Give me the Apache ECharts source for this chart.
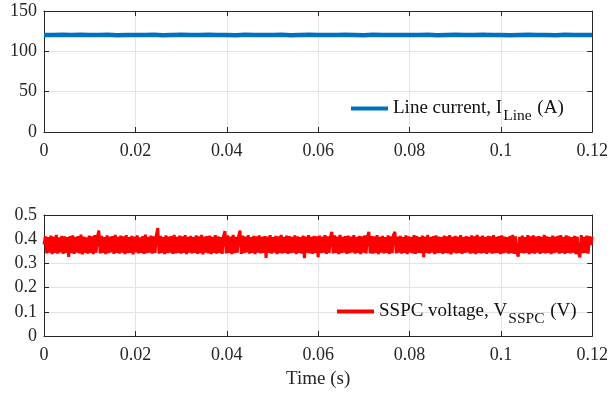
<!DOCTYPE html>
<html>
<head>
<meta charset="utf-8">
<script src="https://cdn.jsdelivr.net/npm/echarts@6/dist/echarts.min.js"></script>
<style>
html,body{margin:0;padding:0;background:#fff;}
#chart{width:611px;height:395px;}
</style>
</head>
<body>
<div id="chart"></div>
<script>
// Sample spacing of the recorded traces (s)
const currentStep = 0.002;
const voltageStep = 0.0003;

// Line current I_Line (A)
const lineCurrent = [
  120.3,120.1,120.5,120.2,120.6,120.1,120.4,120.6,120.0,120.4,
  120.2,120.1,120.5,120.0,120.4,120.6,120.1,120.3,120.5,120.2,
  120.4,120.0,120.6,120.2,120.1,120.4,120.6,120.0,120.3,120.5,
  120.2,120.4,120.1,120.5,120.3,120.0,120.6,120.3,120.1,120.4,
  120.2,120.1,120.5,120.0,120.4,120.6,120.1,120.3,120.5,120.2,
  120.4,120.0,120.3,120.5,120.2,120.4,120.0,120.5,120.3,120.1,
  120.3
];

// SSPC voltage V_SSPC (mV)
const sspcVoltage_mV = [
  378,412,341,409,345,415,338,411,343,418,340,408,346,414,339,412,344,409,327,413,
  342,416,339,410,345,413,341,419,337,411,344,408,340,415,343,412,338,417,345,410,
  436,341,414,344,409,338,416,342,411,346,413,339,418,343,410,340,415,345,412,338,
  417,342,409,344,414,337,411,346,416,341,408,343,413,339,419,342,410,345,415,340,
  412,343,417,446,340,414,344,409,338,416,342,411,345,413,339,418,341,410,344,415,
  340,412,343,417,338,410,345,414,341,409,344,416,339,412,342,418,337,411,345,413,
  341,415,338,410,344,417,340,412,343,409,339,414,433,341,416,344,411,338,418,342,
  410,345,413,436,339,415,342,411,346,417,340,409,343,414,338,412,345,416,341,410,
  344,413,323,411,343,417,340,409,345,414,338,412,342,418,341,410,344,415,339,413,
  342,410,345,416,338,412,343,409,340,415,322,411,344,417,341,410,339,414,343,412,
  326,415,342,411,345,417,339,412,343,409,430,341,416,344,411,338,418,342,410,345,
  413,339,415,342,411,346,417,340,409,343,414,338,412,345,416,341,410,430,341,413,
  340,412,343,417,338,410,345,414,341,409,344,416,339,412,342,418,430,341,411,345,
  414,340,409,343,416,338,412,345,410,341,417,339,413,344,409,342,415,326,411,343,
  418,340,410,345,413,338,416,342,411,344,409,339,415,343,412,341,417,337,410,345,
  414,341,411,344,417,339,409,343,413,346,410,340,416,342,412,338,418,344,411,341,
  415,343,409,339,414,345,412,340,417,342,410,344,413,338,416,341,411,345,409,340,
  414,342,418,339,412,345,328,410,343,415,341,409,344,417,338,412,342,416,340,411,
  345,413,339,410,343,418,341,412,344,409,338,415,342,411,346,414,340,417,343,410,
  339,416,344,412,341,409,345,414,338,411,343,325,417,342,410,344,415,340,412,376,
  410
];

const timeTicks = { min: 0, max: 0.12, interval: 0.02 };
const currentTicks = { min: 0, max: 150, interval: 50 };
const voltageTicks = { min: 0, max: 0.5, interval: 0.1 };

const toPairs = (vals, step, scale) => vals.map((v, i) => [i * step, v * scale]);

const FONT = '"Liberation Serif","Times New Roman",serif';
const INK = '#262626';

function xAxes(grid, showName) {
  const base = {
    type: 'value', gridIndex: grid,
    min: timeTicks.min, max: timeTicks.max, interval: timeTicks.interval,
    axisLine: { show: true, onZero: false, lineStyle: { color: INK, width: 1 } },
    axisTick: { show: true, inside: true, length: 5, lineStyle: { color: INK } }
  };
  return [
    Object.assign({}, base, {
      position: 'bottom',
      splitLine: { show: true, lineStyle: { color: '#e3e3e3', width: 1 } },
      axisLabel: {
        show: true, margin: 10, color: INK, fontFamily: FONT, fontSize: 18,
        formatter: v => String(+v.toFixed(2))
      },
      name: showName ? 'Time (s)' : '',
      nameLocation: 'middle', nameGap: 34,
      nameTextStyle: { color: INK, fontFamily: FONT, fontSize: 19 }
    }),
    Object.assign({}, base, {
      position: 'top', splitLine: { show: false }, axisLabel: { show: false }
    })
  ];
}

function yAxes(grid, ticks) {
  const base = {
    type: 'value', gridIndex: grid,
    min: ticks.min, max: ticks.max, interval: ticks.interval,
    axisLine: { show: true, onZero: false, lineStyle: { color: INK, width: 1 } },
    axisTick: { show: true, inside: true, length: 5, lineStyle: { color: INK } }
  };
  return [
    Object.assign({}, base, {
      position: 'left',
      splitLine: { show: true, lineStyle: { color: '#e3e3e3', width: 1 } },
      axisLabel: {
        show: true, margin: 7, color: INK, fontFamily: FONT, fontSize: 18,
        formatter: v => String(+v.toFixed(2))
      }
    }),
    Object.assign({}, base, {
      position: 'right', splitLine: { show: false }, axisLabel: { show: false }
    })
  ];
}

const legendRich = {
  a: { fontFamily: FONT, fontSize: 19, color: '#111' },
  s: { fontFamily: FONT, fontSize: 15.5, color: '#111', padding: [14, 1, 0, 1] }
};

const chart = echarts.init(document.getElementById('chart'), null, { renderer: 'canvas' });
chart.setOption({
  animation: false,
  backgroundColor: '#fff',
  grid: [
    { left: 44, right: 16, top: 11, height: 121 },
    { left: 44, right: 16, top: 215, height: 121 }
  ],
  xAxis: [...xAxes(0, false), ...xAxes(1, true)],
  yAxis: [...yAxes(0, currentTicks), ...yAxes(1, voltageTicks)],
  legend: [
    {
      data: ['Line current'], left: 351, top: 99, padding: 0,
      icon: 'rect', itemWidth: 37, itemHeight: 4, itemGap: 6,
      formatter: () => '{a|Line current, I}{s|Line}{a| (A)}',
      textStyle: { rich: legendRich }
    },
    {
      data: ['SSPC voltage'], left: 337, top: 302, padding: 0,
      icon: 'rect', itemWidth: 37, itemHeight: 4, itemGap: 6,
      formatter: () => '{a|SSPC voltage, V}{s|SSPC}{a| (V)}',
      textStyle: { rich: legendRich }
    }
  ],
  series: [
    {
      name: 'Line current', type: 'line', xAxisIndex: 0, yAxisIndex: 0,
      data: toPairs(lineCurrent, currentStep, 1),
      showSymbol: false, symbol: 'none',
      lineStyle: { color: '#0072BD', width: 4.5 }, itemStyle: { color: '#0072BD' }
    },
    {
      name: 'SSPC voltage', type: 'line', xAxisIndex: 2, yAxisIndex: 2,
      data: toPairs(sspcVoltage_mV, voltageStep, 0.001),
      showSymbol: false, symbol: 'none',
      lineStyle: { color: '#ff0000', width: 3 }, itemStyle: { color: '#ff0000' }
    }
  ]
});
</script>
</body>
</html>
